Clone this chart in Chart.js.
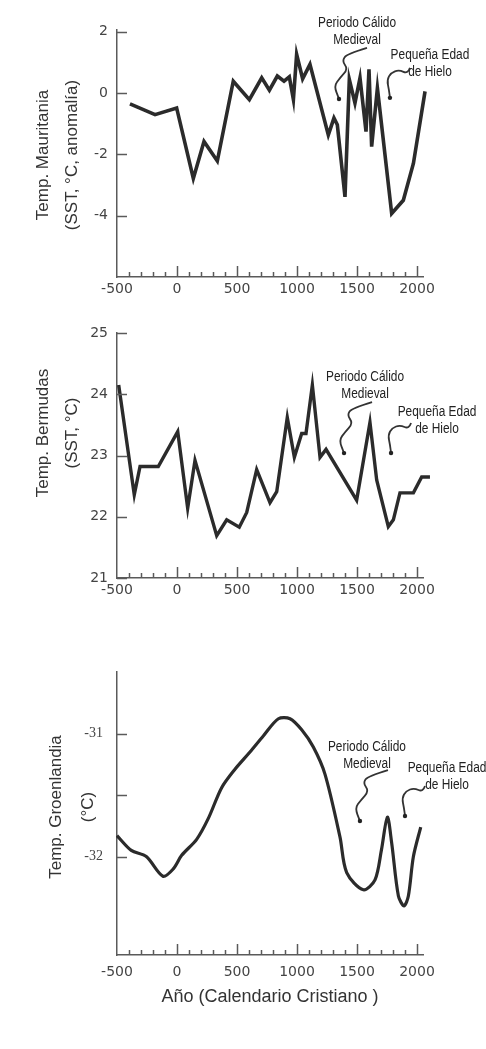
<!DOCTYPE html>
<html>
<head>
<meta charset="utf-8">
<title>Temperaturas</title>
<script src="https://cdn.jsdelivr.net/npm/chart.js@4.4.1/dist/chart.umd.min.js"></script>
<style>
    body { margin: 0; background: #fff; }
    canvas { position: absolute; left: 0; }
</style>
</head>
<body>
<canvas id="mauritania" width="486" height="300" style="top:0px"></canvas>
<canvas id="bermudas" width="486" height="310" style="top:300px"></canvas>
<canvas id="groenlandia" width="486" height="439" style="top:610px"></canvas>
<script>

/*
    datos
*/

var yearTicks = [-500, 0, 500, 1000, 1500, 2000];
var minorStep = 100;

var mauritaniaYears = [-392, -183, -3, 136, 225, 336, 469, 603, 706, 770, 836, 892, 936, 970, 997, 1047,
    1108, 1261, 1308, 1336, 1400, 1436, 1483, 1525, 1575, 1600, 1622, 1670, 1789, 1886, 1970, 2067];
var mauritaniaTemp = [-0.36, -0.71, -0.49, -2.79, -1.58, -2.22, 0.38, -0.22, 0.49, 0.09, 0.55, 0.38, 0.52, -0.22, 1.26, 0.46,
    0.93, -1.37, -0.82, -1.04, -3.39, 0.44, -0.33, 0.49, -1.26, 0.77, -1.75, 0.16, -3.93, -3.50, -2.30, 0.05];
var mauritaniaTicks = [2, 0, -2, -4];

var bermudasYears = [-486, -356, -308, -156, 6, 89, 150, 331, 414, 519, 581, 664, 775, 831, 919,
    978, 1039, 1075, 1128, 1192, 1242, 1497, 1608, 1664, 1761, 1803, 1858, 1970, 2039, 2108];
var bermudasTemp = [24.15, 22.36, 22.82, 22.82, 23.39, 22.14, 22.92, 21.69, 21.95, 21.83, 22.07, 22.77, 22.23, 22.41, 23.62,
    22.97, 23.36, 23.36, 24.15, 22.97, 23.10, 22.27, 23.54, 22.60, 21.84, 21.95, 22.39, 22.39, 22.65, 22.65];
var bermudasTicks = [21, 22, 23, 24, 25];

var groenlandiaYears = [-500, -381, -256, -117, -31, 39, 164, 261, 372, 483, 608, 719, 845, 942, 1039,
    1136, 1233, 1358, 1414, 1553, 1650, 1703, 1753, 1789, 1845, 1892, 1928, 1970, 2031];
var groenlandiaTemp = [-31.83, -31.95, -32.0, -32.16, -32.10, -31.99, -31.86, -31.69, -31.44, -31.29, -31.15, -31.02, -30.88, -30.88, -30.97,
    -31.11, -31.33, -31.84, -32.13, -32.27, -32.19, -31.95, -31.68, -31.89, -32.32, -32.40, -32.32, -32.0, -31.76];
var groenlandiaTicks = [-32, -31.5, -31];
var groenlandiaLabels = ['-32', '', '-31'];

var warmText = ['Periodo Cálido', 'Medieval'];
var iceText = ['Pequeña Edad', 'de Hielo'];


/*
    flechas onduladas (forma relativa al texto)
*/

var warmArrow = [[7, 25], [-13, 31], [-18, 38], [-12, 46], [-20, 55], [-26, 63], [-21, 76]];
var iceArrow = [[-26, 11], [-28, 17], [-37, 13], [-45, 16], [-49, 23], [-47, 33], [-46, 41]];

function toPoints(xs, ys){
    var pts = [];
    for(var i = 0; i < xs.length; i++){
        pts.push({x: xs[i], y: ys[i]});
    }
    return pts;
}

function squiggle(ctx, x0, y0, shape, off){
    var pts = shape.map((p) => [x0 + p[0] + off[0], y0 + p[1] + off[1]]);
    ctx.beginPath();
    ctx.moveTo(pts[0][0], pts[0][1]);
    for(var i = 1; i < pts.length - 1; i++){
        var mx = (pts[i][0] + pts[i + 1][0]) / 2;
        var my = (pts[i][1] + pts[i + 1][1]) / 2;
        ctx.quadraticCurveTo(pts[i][0], pts[i][1], mx, my);
    }
    var last = pts[pts.length - 1];
    ctx.lineTo(last[0], last[1]);
    ctx.stroke();
    ctx.beginPath();
    ctx.arc(last[0], last[1], 2.2, 0, Math.PI * 2);
    ctx.fill();
}

var paleoDecor = {
    id: 'paleoDecor',
    afterDraw: function(chart, args, opts){
        var ctx = chart.ctx;
        var area = chart.chartArea;
        var xs = chart.scales.x;
        var ys = chart.scales.y;

        ctx.save();
        ctx.strokeStyle = '#5a5a5a';
        ctx.lineWidth = 1.5;

        // marcas del eje y hacia dentro
        opts.yMarks.forEach(function(v){
            var py = Math.round(ys.getPixelForValue(v)) + 0.5;
            ctx.beginPath();
            ctx.moveTo(area.left, py);
            ctx.lineTo(area.left + 10, py);
            ctx.stroke();
        });

        // marcas del eje x, cada 100 años
        for(var yr = yearTicks[0] + minorStep; yr <= yearTicks[yearTicks.length - 1]; yr += minorStep){
            var px = Math.round(xs.getPixelForValue(yr)) + 0.5;
            var len = (yr % 500 === 0) ? 11 : 5;
            ctx.beginPath();
            ctx.moveTo(px, area.bottom);
            ctx.lineTo(px, area.bottom - len);
            ctx.stroke();
        }

        // titulo del eje y, dos lineas
        ctx.fillStyle = '#333';
        ctx.font = '17px "Liberation Sans", Arial, sans-serif';
        ctx.textAlign = 'center';
        ctx.textBaseline = 'middle';
        opts.yTitle.lines.forEach(function(line, i){
            ctx.save();
            ctx.translate(opts.yTitle.xs[i], opts.yTitle.y);
            ctx.rotate(-Math.PI / 2);
            ctx.fillText(line, 0, 0);
            ctx.restore();
        });

        // anotaciones
        ctx.strokeStyle = '#333';
        ctx.fillStyle = '#222';
        ctx.lineWidth = 1.8;
        opts.notes.forEach(function(note){
            var ax = xs.getPixelForValue(note.x);
            var ay = ys.getPixelForValue(note.y);
            ctx.font = '14px "Liberation Sans", Arial, sans-serif';
            note.text.forEach(function(line, i){
                ctx.save();
                ctx.translate(ax, ay + i * 17);
                ctx.scale(0.85, 1);
                ctx.fillText(line, 0, 0);
                ctx.restore();
            });
            squiggle(ctx, ax, ay, note.arrow, note.offset);
        });

        ctx.restore();
    }
};

function drawPanel(canvasID, cfg){
    var ctx = document.getElementById(canvasID);

    var config = {
        type: 'line',
        data: {
            datasets: [
                {
                    data: toPoints(cfg.years, cfg.values),
                    borderColor: '#2b2b2b',
                    borderWidth: cfg.lineWidth,
                    borderJoinStyle: 'miter',
                    pointRadius: 0,
                    tension: cfg.tension,
                    clip: false,
                },
            ]
        },
        options: {
            responsive: false,
            animation: false,
            events: [],
            layout: {
                padding: {
                    top: cfg.top,
                    right: 63,
                    left: 0,
                    bottom: 0,
                }
            },
            plugins: {
                legend: { display: false },
                tooltip: { enabled: false },
                paleoDecor: {
                    yMarks: cfg.yTicks,
                    yTitle: cfg.yTitle,
                    notes: cfg.notes,
                },
            },
            scales: {
                x: {
                    type: 'linear',
                    min: -500,
                    max: 2050,
                    grid: { display: false, drawTicks: false },
                    border: { color: '#5a5a5a', width: 1.5 },
                    ticks: {
                        padding: cfg.xPad,
                        color: '#444',
                        autoSkip: false,
                        maxRotation: 0,
                        font: { family: 'DejaVu Sans', size: 14 },
                        callback: (v) => String(v),
                    },
                    title: cfg.xTitle || { display: false },
                    afterBuildTicks: function(scale){
                        scale.ticks = yearTicks.map((v) => ({ value: v }));
                    },
                    afterFit: function(scale){
                        scale.height = cfg.xHeight;
                    },
                },
                y: {
                    type: 'linear',
                    min: cfg.min,
                    max: cfg.max,
                    grid: { display: false, drawTicks: false },
                    border: { color: '#5a5a5a', width: 1.5 },
                    ticks: {
                        padding: cfg.yPad,
                        color: '#444',
                        font: cfg.yFont,
                        callback: cfg.yLabel || ((v) => String(v)),
                    },
                    afterBuildTicks: function(scale){
                        scale.ticks = cfg.yTicks.map((v) => ({ value: v }));
                    },
                    afterFit: function(scale){
                        scale.width = 117;
                    },
                },
            }
        },
        plugins: [paleoDecor]
    };
    return new Chart(ctx, config);
}

drawPanel('mauritania', {
    years: mauritaniaYears,
    values: mauritaniaTemp,
    yTicks: mauritaniaTicks,
    min: -6,
    max: 2.05,
    top: 30,
    xHeight: 23,
    xPad: 4,
    yPad: 9,
    lineWidth: 3.6,
    tension: 0,
    yFont: { family: 'DejaVu Sans', size: 14 },
    yTitle: { lines: ['Temp. Mauritania', '(SST, °C, anomalía)'], xs: [43, 72], y: 155 },
    notes: [
        { x: 1500, y: 2.28, text: warmText, arrow: warmArrow, offset: [3, 0] },
        { x: 2108, y: 1.24, text: iceText, arrow: iceArrow, offset: [6, 2] },
    ],
});

drawPanel('bermudas', {
    years: bermudasYears,
    values: bermudasTemp,
    yTicks: bermudasTicks,
    min: 21,
    max: 25,
    top: 33,
    xHeight: 32,
    xPad: 4,
    yPad: 9,
    lineWidth: 3.4,
    tension: 0,
    yFont: { family: 'DejaVu Sans', size: 14 },
    yTitle: { lines: ['Temp. Bermudas', '(SST, °C)'], xs: [43, 72], y: 133 },
    notes: [
        { x: 1567, y: 24.28, text: warmText, arrow: warmArrow, offset: [0, 0] },
        { x: 2167, y: 23.71, text: iceText, arrow: iceArrow, offset: [0, 0] },
    ],
});

drawPanel('groenlandia', {
    years: groenlandiaYears,
    values: groenlandiaTemp,
    yTicks: groenlandiaTicks,
    min: -32.8,
    max: -30.5,
    top: 62,
    xHeight: 94,
    xPad: 9,
    yPad: 14,
    lineWidth: 3.2,
    tension: 0.3,
    yFont: { family: 'Liberation Serif', size: 14 },
    yLabel: (v) => groenlandiaLabels[groenlandiaTicks.indexOf(v)],
    yTitle: { lines: ['Temp. Groenlandia', '(°C)'], xs: [56, 88], y: 197 },
    xTitle: {
        display: true,
        text: 'Año (Calendario Cristiano )',
        color: '#333',
        font: { family: 'Liberation Sans', size: 18 },
        padding: { top: 0, bottom: 41 },
    },
    notes: [
        { x: 1583, y: -31.11, text: warmText, arrow: warmArrow, offset: [14, -2] },
        { x: 2250, y: -31.28, text: iceText, arrow: iceArrow, offset: [4, 7] },
    ],
});

</script>
</body>
</html>
